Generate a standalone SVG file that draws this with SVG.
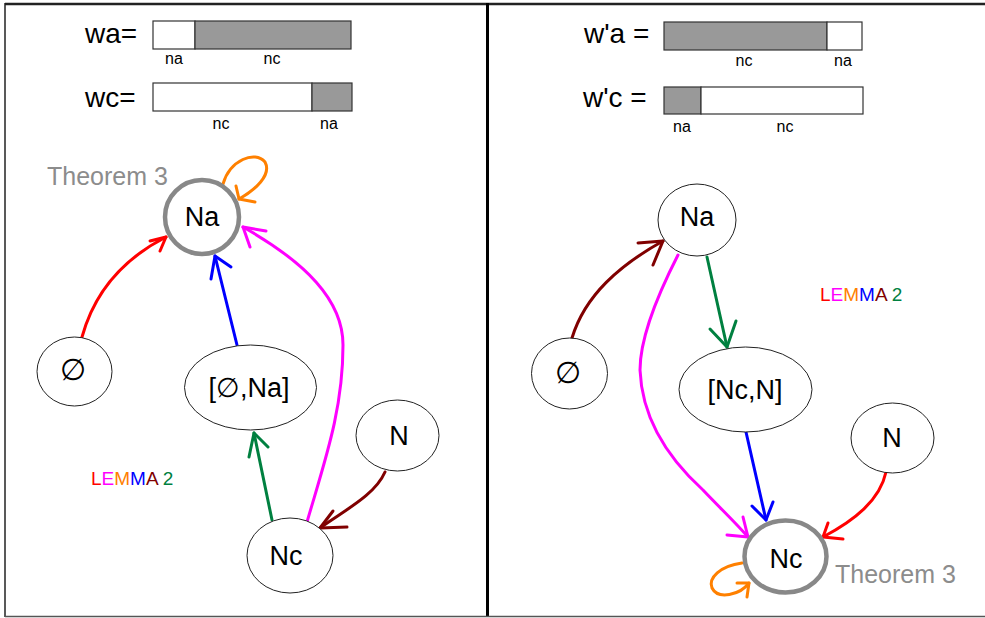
<svg xmlns="http://www.w3.org/2000/svg" width="985" height="618" viewBox="0 0 985 618">
<style>
text{font-family:"Liberation Sans",Arial,sans-serif;}
.eq{font-size:28px;fill:#000;}
.lbl{font-size:16px;fill:#000;text-anchor:middle;}
.bar{stroke:#333;stroke-width:1.2;}
.g{fill:#999999;}
.w{fill:#fff;}
.node ellipse{fill:#fff;stroke:#222;stroke-width:1;}
.node.big ellipse{stroke:#888;stroke-width:4.5;}
.nt{font-size:27px;text-anchor:middle;fill:#000;}
.thm{font-size:25px;fill:#8c8c8c;}
.lem{font-size:19px;}
.c path,.c polyline{fill:none;stroke-width:3;stroke-linecap:round;stroke-linejoin:round;}
.red{stroke:#ff0000;}
.mag{stroke:#ff00ff;}
.org{stroke:#ff8000;}
.blu{stroke:#0000ff;}
.grn{stroke:#008040;}
.drd{stroke:#800000;}
</style>
<rect width="985" height="618" fill="#fff"/>
<!-- frames -->
<g id="frame" fill="none">
<line x1="5" y1="4" x2="985" y2="4" stroke="#222" stroke-width="2.5"/>
<line x1="5" y1="3" x2="5" y2="617" stroke="#222" stroke-width="1.5"/>
<line x1="487.5" y1="3" x2="487.5" y2="617" stroke="#000" stroke-width="3"/>
<line x1="5" y1="616.5" x2="985" y2="616.5" stroke="#555" stroke-width="1.5"/>
</g>
<!-- left bars -->
<g id="wa">
<text class="eq" x="85" y="43">wa=</text>
<rect class="bar w" x="153" y="21" width="42" height="28"/>
<rect class="bar g" x="195" y="21" width="156" height="28"/>
<text class="lbl" x="174" y="64">na</text>
<text class="lbl" x="272" y="64">nc</text>
</g>
<g id="wc">
<text class="eq" x="85" y="107">wc=</text>
<rect class="bar w" x="153" y="83" width="159" height="28"/>
<rect class="bar g" x="312" y="83" width="40" height="28"/>
<text class="lbl" x="221" y="129">nc</text>
<text class="lbl" x="329" y="129">na</text>
</g>
<!-- right bars -->
<g id="wpa">
<text class="eq" x="584" y="43">w'a =</text>
<rect class="bar g" x="664" y="22" width="163" height="28"/>
<rect class="bar w" x="827" y="22" width="35" height="28"/>
<text class="lbl" x="744" y="66">nc</text>
<text class="lbl" x="843" y="66">na</text>
</g>
<g id="wpc">
<text class="eq" x="583" y="107">w'c =</text>
<rect class="bar g" x="664" y="87" width="37" height="27"/>
<rect class="bar w" x="701" y="87" width="162" height="27"/>
<text class="lbl" x="682" y="132">na</text>
<text class="lbl" x="785" y="132">nc</text>
</g>
<!-- connectors -->
<g id="connectors" class="c">
<!-- left -->
<path class="red" d="M82,337 C95,290 125,258 166,237"/>
<polyline class="red" points="150,241 166,237 160,251"/>
<path class="blu" d="M237,345 L215,256"/>
<polyline class="blu" points="211,279 215,256 231,267"/>
<path class="grn" d="M272,520 L254,433"/>
<polyline class="grn" points="249,457 254,433 268,447"/>
<path class="mag" d="M307,522 C325,460 343,410 343,345 C343,300 305,262 243,227"/>
<polyline class="mag" points="266,231 243,227 250,247"/>
<path class="drd" d="M385,472 C375,495 345,510 320,528"/>
<polyline class="drd" points="333,511 320,528 347,527"/>
<path class="org" d="M223,184 C230,160 255,150 265,162 C272,175 255,190 239,199"/>
<polyline class="org" points="236,186 239,199 255,202"/>
<!-- right -->
<path class="drd" d="M572,338 C585,295 620,265 663,241"/>
<polyline class="drd" points="638,243 663,241 653,265"/>
<path class="mag" d="M678,255 C655,300 640,340 640,370 C642,420 670,460 703,490 C720,508 735,522 748,537"/>
<polyline class="mag" points="727,535 748,537 743,517"/>
<path class="grn" d="M707,257 L727,347"/>
<polyline class="grn" points="710,329 727,347 736,321"/>
<path class="blu" d="M746,432 L766,520"/>
<polyline class="blu" points="752,506 766,520 773,502"/>
<path class="red" d="M886,472 C880,500 855,520 823,537"/>
<polyline class="red" points="828,523 823,537 843,539"/>
<path class="org" d="M742,563 C720,566 708,578 712,588 C718,600 740,595 749,583"/>
<polyline class="org" points="737,583 749,583 747,597"/>
</g>
<!-- left nodes -->
<g id="L_Na" class="node big">
<ellipse cx="202" cy="217" rx="37" ry="37"/>
<text class="nt" x="202" y="226">Na</text>
</g>
<g id="L_empty" class="node">
<ellipse cx="74.5" cy="371.5" rx="37.5" ry="34.5"/>
<text class="nt" x="73" y="380" style="font-size:30px">∅</text>
</g>
<g id="L_EmptyNa" class="node">
<ellipse cx="250.5" cy="387.5" rx="66" ry="42.5"/>
<text class="nt" x="249" y="397">[∅,Na]</text>
</g>
<g id="L_N" class="node">
<ellipse cx="397.5" cy="435.5" rx="41.5" ry="35.5"/>
<text class="nt" x="399" y="445">N</text>
</g>
<g id="L_Nc" class="node">
<ellipse cx="290" cy="555.5" rx="43" ry="37.5"/>
<text class="nt" x="286" y="565">Nc</text>
</g>
<text class="thm" x="47" y="185">Theorem 3</text>
<text class="lem" x="91" y="485"><tspan fill="#ff0000">L</tspan><tspan fill="#ff00ff">E</tspan><tspan fill="#ff8000">M</tspan><tspan fill="#0000ff">M</tspan><tspan fill="#800000">A</tspan> <tspan fill="#008040">2</tspan></text>
<!-- right nodes -->
<g id="R_Na" class="node">
<ellipse cx="697" cy="220" rx="39" ry="36"/>
<text class="nt" x="697" y="226">Na</text>
</g>
<g id="R_empty" class="node">
<ellipse cx="569.5" cy="373.5" rx="38" ry="35.5"/>
<text class="nt" x="568" y="383" style="font-size:30px">∅</text>
</g>
<g id="R_NcN" class="node">
<ellipse cx="745.5" cy="389.5" rx="66.5" ry="42.5"/>
<text class="nt" x="745" y="399">[Nc,N]</text>
</g>
<g id="R_N" class="node">
<ellipse cx="892.5" cy="438" rx="41.5" ry="35"/>
<text class="nt" x="892" y="447">N</text>
</g>
<g id="R_Nc" class="node big">
<ellipse cx="785.5" cy="556.5" rx="41" ry="36"/>
<text class="nt" x="786" y="568">Nc</text>
</g>
<text class="thm" x="835" y="583">Theorem 3</text>
<text class="lem" x="820" y="301"><tspan fill="#ff0000">L</tspan><tspan fill="#ff00ff">E</tspan><tspan fill="#ff8000">M</tspan><tspan fill="#0000ff">M</tspan><tspan fill="#800000">A</tspan> <tspan fill="#008040">2</tspan></text>
</svg>
